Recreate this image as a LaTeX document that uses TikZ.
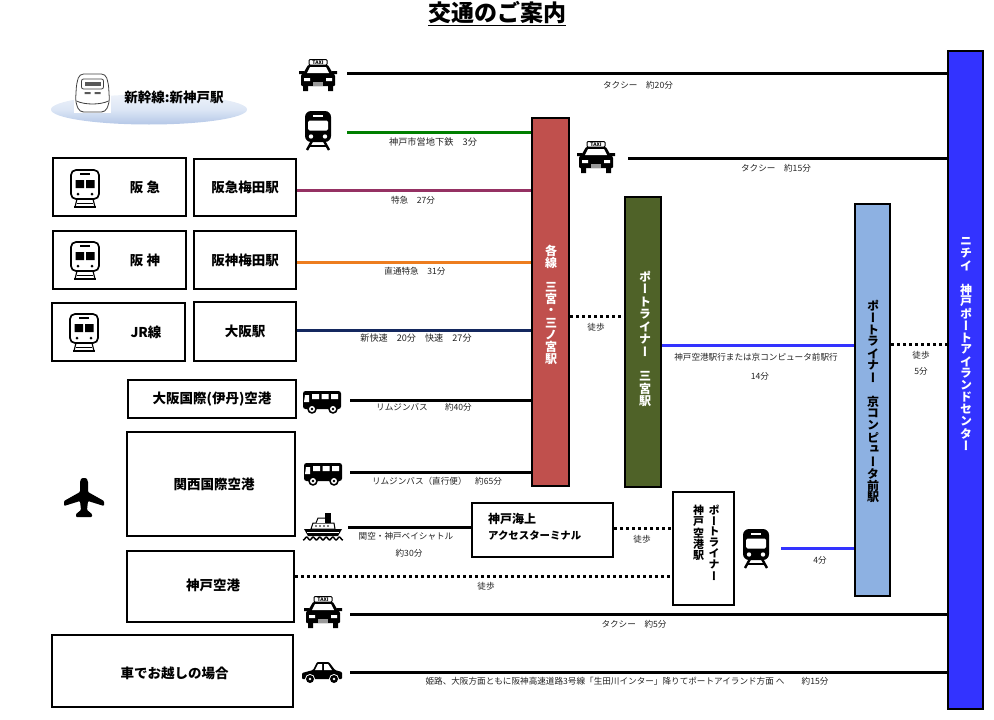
\documentclass[tikz,border=0pt]{standalone}
\usepackage{fontspec}
\setmainfont{Noto Sans CJK JP}
\newfontfamily\tatefont[Vertical=Alternates]{Noto Sans CJK JP}
\usetikzlibrary{calc, positioning, shapes.geometric}
\definecolor{localred}{HTML}{C0504D}
\definecolor{portgreen}{HTML}{4F6228}
\definecolor{computerblue}{HTML}{8DB1E2}
\definecolor{centerblue}{HTML}{3333FF}
\definecolor{hankyuline}{HTML}{953163}
\definecolor{hanshinline}{HTML}{ED7D1F}
\definecolor{jrline}{HTML}{14285F}
\definecolor{subwayline}{HTML}{007F00}
\definecolor{note}{HTML}{222222}
\definecolor{pooltop}{HTML}{EEF2FA}
\definecolor{poolmid}{HTML}{DCE6F5}
\definecolor{poolbot}{HTML}{B4C7E7}
% one stacked character per step, for the vertical names
\newcommand{\tate}[2][12pt]{\vbox{\offinterlineskip\def\tatestep{#1}\tatelist#2\tateend}}
\def\tatelist#1{\ifx#1\tateend\else\vbox to \tatestep{\vss\hbox to 16pt{\hss#1\hss}\vss}\expandafter\tatelist\fi}
\tikzset{
  stnbox/.style={draw=black, line width=2.4pt, fill=white, inner sep=0pt, font=\bfseries\fontsize{13.5}{16}\selectfont},
  barbox/.style={draw=black, line width=2.4pt, inner sep=0pt},
  boldtxt/.style={inner sep=0pt, font=\bfseries\fontsize{13.5}{16}\selectfont},
  tatetxt/.style={inner sep=0pt, font=\tatefont\bfseries\fontsize{12}{12}\selectfont},
  smalltxt/.style={inner sep=0pt, text=note, font=\fontsize{8.6}{10}\selectfont},
  route/.style={line width=3pt},
  walk/.style={line width=3pt, dash pattern=on 3pt off 3pt},
  pics/taxiicon/.style={code={
    \draw[fill=white, line width=1pt, rounded corners=1pt] (-9,-15.5) rectangle (9,-10);
    \node[inner sep=0pt, font=\bfseries\fontsize{5}{5}\selectfont] (-taxisign) at (0,-12.8) {TAXI};
    \fill[rounded corners=1pt] (-10,-10) -- (10,-10) -- (14,-3) -- (17,0) -- (17,11) -- (-17,11) -- (-17,0) -- (-14,-3) -- cycle;
    \fill (-19,-4) rectangle (-14,-1) (14,-4) rectangle (19,-1);
    \fill[white] (-8,-8) -- (8,-8) -- (11,-2) -- (-11,-2) -- cycle;
    \fill[white] (-14,3) rectangle (-8,6) (8,3) rectangle (14,6);
    \fill[white!60!black] (-5,7) rectangle (5,11);
    \fill (-15,11) rectangle (-10,16) (10,11) rectangle (15,16);
  }},
  pics/trainicon/.style={code={
    \fill[rounded corners=6pt] (-13,-20) rectangle (13,11);
    \fill[white] (-5,-16.5) rectangle (5,-14.5);
    \fill[white, rounded corners=1.5pt] (-10,-10.5) rectangle (10,-0.5);
    \fill[white] (-7,5.5) circle (2.2pt) (7,5.5) circle (2.2pt);
    \draw[line width=2.4pt] (-6,10) -- (-11,19) (6,10) -- (11,19);
    \draw[line width=1.5pt] (-8,15) -- (8,15);
  }},
  pics/trainline/.style={code={
    \draw[line width=1.7pt, rounded corners=5pt] (-14,-18) rectangle (14,11);
    \draw[line width=1.5pt] (-5,-14) -- (5,-14);
    \fill (-9.5,-8) rectangle (-1,0) (1,-8) rectangle (9.5,0);
    \fill (-7,6) circle (1.5pt) (7,6) circle (1.5pt);
    \draw[line width=1.2pt] (-8,11) -- (-10,19) (8,11) -- (10,19);
    \draw[line width=1.5pt] (-11,19) -- (11,19);
    \draw[line width=1pt] (-8,15) -- (8,15);
  }},
  pics/busicon/.style={code={
    \fill[rounded corners=2.5pt] (-19,-11) -- (19,-11) -- (19,7) -- (-19,7) -- cycle;
    \fill[white] (-17,-7) -- (-13,-7) -- (-13,0) -- (-18,0) -- cycle;
    \fill[white] (-10,-8) rectangle (-3,-3) (-0.5,-8) rectangle (6.5,-3) (9,-8) rectangle (16,-3);
    \foreach \wx in {-10,11} {
      \fill (\wx,7) circle (4.8pt);
      \fill[white] (\wx,7) circle (3pt);
      \fill (\wx,7) circle (1.4pt);
    }
  }},
  pics/shipicon/.style={code={
    \fill (-19,3) -- (19,3) -- (15,10) -- (-15,10) -- cycle;
    \fill[white] (-16,5.5) rectangle (16,6.5);
    \draw[fill=white, line width=1pt] (-12,3) -- (-10,-3) -- (11,-3) -- (12,3) -- cycle;
    \draw[fill=white, line width=1pt] (-7,-3) -- (-5,-8) -- (3,-8) -- (3,-3);
    \fill (2,-13) rectangle (8,-3);
    \foreach \dx in {-7,-3,1,5} {\fill (\dx,0) circle (0.9pt);}
    \draw[line width=1.5pt] plot[domain=-20:20, samples=50, smooth] (\x, {12.5+1.4*cos(\x*55)});
  }},
  pics/caricon/.style={code={
    \fill[rounded corners=1pt] (-20,6) -- (-20,0) -- (-9,-3) -- (-5,-11) -- (7,-11) -- (13,-3) -- (20,-1) -- (20,6) -- cycle;
    \fill[white] (-7,-3) -- (-4,-9) -- (0,-9) -- (0,-3) -- cycle (2,-3) -- (2,-9) -- (6,-9) -- (10,-3) -- cycle;
    \foreach \wx in {-12,12} {
      \fill[white] (\wx,6) circle (5pt);
      \fill (\wx,6) circle (4pt);
      \fill[white] (\wx,6) circle (1.3pt);
    }
  }},
  pics/planeicon/.style={code={
    \fill[rounded corners=1pt] (-4,-15) .. controls (-4,-19) and (-2,-20) .. (0,-20) .. controls (2,-20) and (4,-19) .. (4,-15) -- (4,-6) -- (20,3) -- (20,8) -- (4,3) -- (3,12) -- (8,16) -- (8,19) -- (-8,19) -- (-8,16) -- (-3,12) -- (-4,3) -- (-20,8) -- (-20,3) -- (-4,-6) -- cycle;
  }},
  pics/bullettrain/.style={code={
    \fill[white] (-18.5,-11) rectangle (18.5,19);
    \draw[black!75, line width=0.8pt, rounded corners=4pt] (-13,-20) -- (13,-20) -- (16,-10) -- (17,8) -- (13,18) -- (-13,18) -- (-17,8) -- (-16,-10) -- cycle;
    \draw[black!75, line width=0.8pt] (-16,7) .. controls (-8,11) and (8,11) .. (16,7);
    \draw[black!75, line width=0.8pt, rounded corners=2pt] (-11,-15) rectangle (11,-5);
    \fill[black!65] (-8,-12) rectangle (8,-8);
    \fill[black!65] (-8,-2) rectangle (-2,0) (2,-2) rectangle (8,0);
  }}
}
\begin{document}
\begin{tikzpicture}[x=1pt, y=-1pt]
\useasboundingbox (0,0) rectangle (994,720);
% bars %
\node[barbox, fill=localred, minimum width=37pt, minimum height=368pt] (localbar) at (550.5,302) {};
\node[barbox, fill=portgreen, minimum width=36pt, minimum height=290pt] (portbar) at (643,342) {};
\node[barbox, fill=computerblue, minimum width=35pt, minimum height=392pt] (computerbar) at (872.5,400) {};
\node[barbox, fill=centerblue, minimum width=35pt, minimum height=658pt] (centerbar) at (965.5,380) {};
\node[tatetxt, text=white] (localname) at (551,305) {\tate{各線　三宮・三ノ宮駅}};
\node[tatetxt, text=white] (portname) at (645,339) {\tate[12.5pt]{ポートライナー　三宮駅}};
\node[tatetxt] (computername) at (873,401.5) {\tate{ポートライナー　京コンピュータ前駅}};
\node[tatetxt, text=white] (centername) at (966,343.5) {\tate{ニチイ　神戸ポートアイランドセンター}};
% boxes %
\node[stnbox, minimum width=133pt, minimum height=58pt] (hankyu) at (119.5,187) {};
\node[stnbox, minimum width=102pt, minimum height=57pt] (hankyustn) at (245,187.5) {阪急梅田駅};
\node[stnbox, minimum width=133pt, minimum height=58pt] (hanshin) at (119.5,260) {};
\node[stnbox, minimum width=102pt, minimum height=58pt] (hanshinstn) at (245,260) {阪神梅田駅};
\node[stnbox, minimum width=133pt, minimum height=58pt] (jr) at (118.5,332) {};
\node[stnbox, minimum width=102pt, minimum height=59pt] (osakastn) at (245,331.5) {大阪駅};
\node[stnbox, minimum width=168pt, minimum height=38pt] (itami) at (212,399) {大阪国際(伊丹)空港};
\node[stnbox, minimum width=168pt, minimum height=104pt] (kansai) at (211,484) {};
\node[stnbox, minimum width=167pt, minimum height=71pt] (kobeair) at (210.5,586.5) {};
\node[stnbox, minimum width=241pt, minimum height=72pt] (bycar) at (172.5,671) {};
\node[stnbox, minimum width=141pt, minimum height=54pt] (terminal) at (542.5,530) {};
\node[stnbox, line width=2pt, minimum width=61pt, minimum height=113pt] (portair) at (703.5,548.5) {};
% box texts %
\node[boldtxt] (hankyutxt) at (145,187) {阪 急};
\node[boldtxt] (hanshintxt) at (145,260) {阪 神};
\node[boldtxt] (jrtxt) at (146,332) {JR線};
\node[boldtxt] (kansaitxt) at (214,484) {関西国際空港};
\node[boldtxt] (kobeairtxt) at (213,585) {神戸空港};
\node[boldtxt] (bycartxt) at (174.5,673) {車でお越しの場合};
\node[boldtxt, anchor=west, font=\bfseries\fontsize{12}{14}\selectfont] (terminaltxt) at (488,519) {神戸海上};
\node[boldtxt, anchor=west, font=\bfseries\fontsize{10.4}{14}\selectfont] (terminaltxtb) at (488,535) {アクセスターミナル};
\node[tatetxt, anchor=north, font=\tatefont\bfseries\fontsize{11}{11}\selectfont] (portairtxt) at (714,504) {\tate[11pt]{ポートライナー}};
\node[tatetxt, anchor=north, font=\tatefont\bfseries\fontsize{11}{11}\selectfont] (portairtxtb) at (698.5,504) {\tate[11.5pt]{神戸空港駅}};
% title and bullet train %
\node[inner sep=0pt, font=\bfseries\fontsize{23}{26}\selectfont] (title) at (497,14) {\underline{交通のご案内}};
\node[ellipse, minimum width=196pt, minimum height=30pt, inner sep=0pt, top color=pooltop, bottom color=poolbot, middle color=poolmid] (pool) at (149,109.5) {};
\pic at (92.5,94) {bullettrain};
\node[boldtxt] (shinkansen) at (174,97) {新幹線:新神戸駅};
% icons %
\pic at (318,75) {taxiicon};
\pic at (318,131) {trainicon};
\pic at (596,157) {taxiicon};
\pic at (85,188) {trainline};
\pic at (85,260) {trainline};
\pic at (84,332) {trainline};
\pic at (322,402) {busicon};
\pic at (323,474) {busicon};
\pic at (323,526) {shipicon};
\pic at (323,612) {taxiicon};
\pic at (322,673) {caricon};
\pic at (84,498) {planeicon};
\pic at (756,549) {trainicon};
% free ends %
\coordinate (taxiastart) at (347,73);
\coordinate (subwaystart) at (347,132);
\coordinate (taxibstart) at (628,158);
\coordinate (hankyustart) at (hankyustn.east |- 0,190.5);
\coordinate (busastart) at (350,400);
\coordinate (busbstart) at (350,472);
\coordinate (shipstart) at (348,527);
\coordinate (airwalk) at (kobeair.east |- 0,576);
\coordinate (taxicstart) at (350,614);
\coordinate (carstart) at (350,672);
\coordinate (portwalk) at (terminal.east |- 0,528);
\coordinate (localwalk) at (localbar.east |- 0,316);
\coordinate (portrun) at (portbar.east |- 0,345);
\coordinate (computerwalk) at (computerbar.east |- 0,344.5);
\coordinate (airrun) at (781,548);
% edges %
\draw[route] (taxiastart) -- (centerbar.west |- taxiastart);
\draw[route, subwayline] (subwaystart) -- (localbar.west |- subwaystart);
\draw[route] (taxibstart) -- (centerbar.west |- taxibstart);
\draw[route, hankyuline] (hankyustart) -- (localbar.west |- hankyustart);
\draw[route, hanshinline] (hanshinstn.east |- 0,262) -- (localbar.west |- 0,262);
\draw[route, jrline] (osakastn.east |- 0,330) -- (localbar.west |- 0,330);
\draw[route] (busastart) -- (localbar.west |- busastart);
\draw[route] (busbstart) -- (localbar.west |- busbstart);
\draw[route] (shipstart) -- (terminal.west |- shipstart);
\draw[walk] (portwalk) -- (portair.west |- portwalk);
\draw[walk] (airwalk) -- (portair.west |- airwalk);
\draw[route] (taxicstart) -- (centerbar.west |- taxicstart);
\draw[route] (carstart) -- (centerbar.west |- carstart);
\draw[walk] (localwalk) -- (portbar.west |- localwalk);
\draw[route, centerblue] (portrun) -- (computerbar.west |- portrun);
\draw[walk] (computerwalk) -- (centerbar.west |- computerwalk);
\draw[route, centerblue] (airrun) -- (computerbar.west |- airrun);
% line labels %
\node[smalltxt] (lbtaxia) at (638,85) {タクシー　約20分};
\node[smalltxt, font=\fontsize{9.2}{10}\selectfont] (lbsubway) at (433,142) {神戸市営地下鉄　3分};
\node[smalltxt] (lbtaxib) at (776,168) {タクシー　約15分};
\node[smalltxt] (lbhankyu) at (413,200) {特急　27分};
\node[smalltxt] (lbhanshin) at (415,271) {直通特急　31分};
\node[smalltxt, font=\fontsize{9.1}{10}\selectfont] (lbjr) at (416,338) {新快速　20分　快速　27分};
\node[smalltxt] (lbbusa) at (424,407) {リムジンバス　　約40分};
\node[smalltxt] (lbbusb) at (437,481) {リムジンバス（直行便）　約65分};
\node[smalltxt] (lbship) at (406,536) {関空・神戸ベイシャトル};
\node[smalltxt] (lbshipb) at (409,553) {約30分};
\node[smalltxt] (lbwalka) at (642,539) {徒歩};
\node[smalltxt] (lbwalkb) at (486,586) {徒歩};
\node[smalltxt] (lbtaxic) at (634,624) {タクシー　約5分};
\node[smalltxt] (lbcar) at (627,681) {姫路、大阪方面ともに阪神高速道路3号線「生田川インター」降りてポートアイランド方面 へ　　約15分};
\node[smalltxt] (lbwalkc) at (596,327) {徒歩};
\node[smalltxt] (lbport) at (756,357) {神戸空港駅行または京コンピュータ前駅行};
\node[smalltxt] (lbportb) at (760,376) {14分};
\node[smalltxt] (lbwalkd) at (921,355) {徒歩};
\node[smalltxt] (lbwalke) at (921,371) {5分};
\node[smalltxt] (lbair) at (820,560) {4分};
\end{tikzpicture}
\end{document}
